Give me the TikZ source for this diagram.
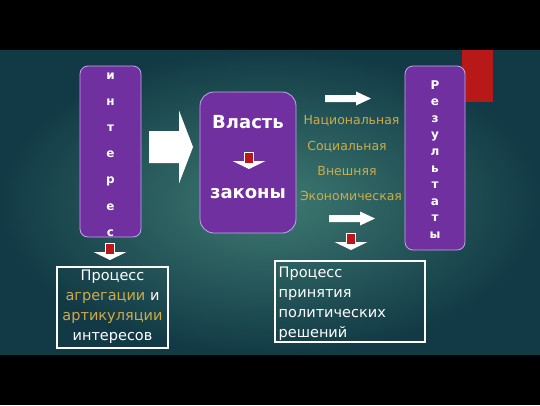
\documentclass[tikz,border=0pt]{standalone}
\usepackage{fontspec}
\setmainfont{DejaVu Sans}
\usepackage{xcolor}
\usepackage{tikz}
\usetikzlibrary{calc}
\definecolor{bg-in}{RGB}{62,122,114}
\definecolor{bg-out}{RGB}{18,58,70}
\definecolor{box-fill}{RGB}{112,48,160}
\definecolor{box-line}{RGB}{190,170,230}
\definecolor{gold}{RGB}{206,172,72}
\definecolor{mark-red}{RGB}{184,24,24}
\tikzset{
    purplebox/.style = {draw=box-line, fill=box-fill, line width=0.8pt, inner sep=0pt},
    framebox/.style = {draw=white, line width=1.6pt, inner sep=0pt},
    letters/.style = {text=white, align=center, inner sep=0pt},
    topic/.style = {text=gold, anchor=base, inner sep=0pt, font=\fontsize{12.5}{14}\selectfont},
    boxtext/.style = {text=white, inner sep=0pt, anchor=north, font=\fontsize{14.5}{20}\selectfont},
    pics/fatarrow/.style n args = {4}{
        code = {%
        \fill[white] (0,-#2) -- (#1-#4,-#2) -- (#1-#4,-#3) -- (#1,0)
           -- (#1-#4,#3) -- (#1-#4,#2) -- (0,#2) -- cycle;
        }
    },
    pics/downmark/.style = {
        code = {%
        \fill[white] (-16.5,9) -- (16.5,9) -- (0,17) -- cycle;
        \filldraw[fill=mark-red, draw=white, line width=0.8pt] (-4.5,0) rectangle (4.5,11);
        }
    }
}

\begin{document}
\begin{tikzpicture}[x=1pt,y=-1pt]
\fill[black] (0,0) rectangle (540,405);
\shade[inner color=bg-in, outer color=bg-out] (0,50) rectangle (540,354);
\fill[mark-red] (462,50) rectangle (493,102);

\node (int) [purplebox, rounded corners=8pt, minimum width=61pt, minimum height=171pt] at (110.5,151.5) {};
\node (int-word) [letters, font=\bfseries\fontsize{12}{26.2}\selectfont] at (110.5,154.5)
    {и\\н\\т\\е\\р\\е\\с};

\pic at (149,147) {fatarrow={44}{16}{36.5}{14}};

\node (vlast) [purplebox, rounded corners=14pt, minimum width=96pt, minimum height=141pt] at (248,162.5) {};
\node (vlast-top) [text=white, anchor=base, inner sep=0pt, font=\bfseries\fontsize{18}{20}\selectfont] at (248,128) {Власть};
\pic at (249,152) {downmark};
\node (vlast-bot) [text=white, anchor=base, inner sep=0pt, font=\bfseries\fontsize{18}{20}\selectfont] at (248,198) {законы};

\pic at (325,98.5) {fatarrow={46}{3.5}{7}{15}};
\node (t1) [topic] at (351.5,124.5) {Национальная};
\node (t2) [topic] at (347,150) {Социальная};
\node (t3) [topic] at (347,175) {Внешняя};
\node (t4) [topic] at (351,200.5) {Экономическая};
\pic at (329,218.5) {fatarrow={46}{3.5}{7}{15}};

\node (res) [purplebox, rounded corners=8pt, minimum width=60pt, minimum height=184pt] at (435,158) {};
\node (res-word) [letters, font=\bfseries\fontsize{12}{16.6}\selectfont] at (435,159.5)
    {Р\\е\\з\\у\\л\\ь\\т\\а\\т\\ы};

\pic at (110,243) {downmark};
\node (agg) [framebox, minimum width=111pt, minimum height=81pt] at (112.5,307.5) {};
\node (agg-text) [boxtext, align=center] at (112.5,269.3)
    {Процесс\\\textcolor{gold}{агрегации} и\\\textcolor{gold}{артикуляции}\\интересов};

\pic at (351,233) {downmark};
\node (dec) [framebox, minimum width=150pt, minimum height=81pt] at (350,301.5) {};
\node (dec-text) [boxtext, anchor=north west, align=left] at (278.5,266.7)
    {Процесс\\принятия\\политических\\решений};
\end{tikzpicture}
\end{document}
